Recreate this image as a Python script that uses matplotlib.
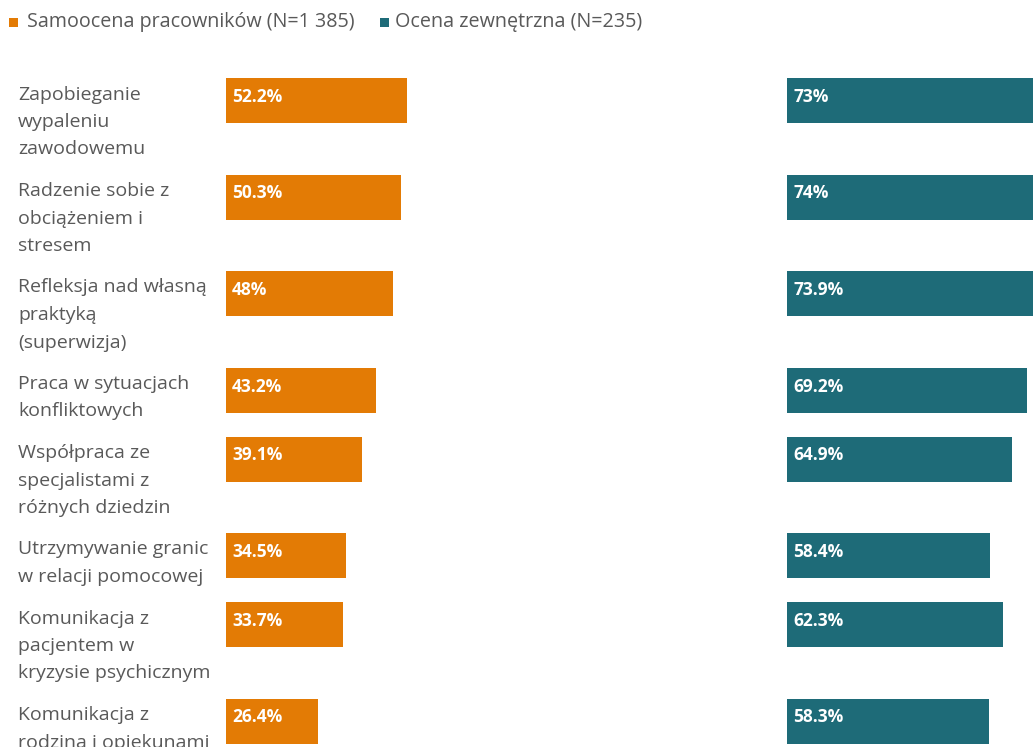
import matplotlib
matplotlib.use("Agg")
import matplotlib.pyplot as plt
from matplotlib.patches import Rectangle
from matplotlib.transforms import blended_transform_factory

# ---- data ----
categories = [
    "Zapobieganie\nwypaleniu\nzawodowemu",
    "Radzenie sobie z\nobciążeniem i\nstresem",
    "Refleksja nad własną\npraktyką\n(superwizja)",
    "Praca w sytuacjach\nkonfliktowych",
    "Współpraca ze\nspecjalistami z\nróżnych dziedzin",
    "Utrzymywanie granic\nw relacji pomocowej",
    "Komunikacja z\npacjentem w\nkryzysie psychicznym",
    "Komunikacja z\nrodziną i opiekunami",
]
self_vals = [52.2, 50.3, 48.0, 43.2, 39.1, 34.5, 33.7, 26.4]
self_labels = ["52.2%", "50.3%", "48%", "43.2%", "39.1%", "34.5%", "33.7%", "26.4%"]
ext_vals = [73.0, 74.0, 73.9, 69.2, 64.9, 58.4, 62.3, 58.3]
ext_labels = ["73%", "74%", "73.9%", "69.2%", "64.9%", "58.4%", "62.3%", "58.3%"]
series_names = ["Samoocena pracowników (N=1 385)", "Ocena zewnętrzna (N=235)"]

# ---- style ----
W, H = 1033, 747
ORANGE = "#E37B05"
TEAL = "#1E6B78"
GREY = "#595959"
FONT = "Open Sans"
LINE = 27.5      # label line height (px)
GAP = 14         # gap between rows (px)
TOP0 = 78        # first bar top (px)
BAR_H = 45       # bar height (px)
PX_PER_PCT = 3.47

fig = plt.figure(figsize=(W / 100, H / 100), dpi=100)
fig.patch.set_facecolor("white")

# row positions from number of label lines
tops = []
y = TOP0
for c in categories:
    tops.append(y)
    y += LINE * len(c.split("\n")) + GAP

left_x0 = 226
right_x0 = 787
axL = fig.add_axes([left_x0 / W, 0, 100 * PX_PER_PCT / W, 1])
axR = fig.add_axes([right_x0 / W, 0, (W - right_x0) / W, 1])
axL.set_xlim(0, 100)
axR.set_xlim(0, (W - right_x0) / PX_PER_PCT)

for ax, vals, labs, col in [(axL, self_vals, self_labels, ORANGE),
                            (axR, ext_vals, ext_labels, TEAL)]:
    ax.set_ylim(H, 0)
    ax.axis("off")
    ax.barh([t + BAR_H / 2 for t in tops], vals, height=BAR_H, color=col,
            align="center", linewidth=0)
    for t, lab in zip(tops, labs):
        ax.annotate(lab, xy=(0, t + 24), xytext=(6, 0),
                    textcoords="offset pixels", va="baseline", ha="left",
                    color="white", fontweight="bold", fontsize=12.5,
                    family=FONT)

# category labels
tr = blended_transform_factory(fig.transFigure, axL.transData)
for t, c in zip(tops, categories):
    for k, line in enumerate(c.split("\n")):
        fig.text(18 / W, t + 21.5 + k * LINE, line, transform=tr,
                 va="baseline", ha="left", color=GREY, fontsize=14,
                 family=FONT)

# legend
def add_legend_item(xsq, xtxt, color, text):
    fig.add_artist(Rectangle((xsq / W, 1 - 27 / H), 9 / W, 9 / H,
                             transform=fig.transFigure, color=color,
                             linewidth=0))
    fig.text(xtxt / W, 1 - 22.5 / H, text, va="center", ha="left",
             color=GREY, fontsize=14.2, family=FONT)

add_legend_item(9, 27, ORANGE, series_names[0])
add_legend_item(380, 395, TEAL, series_names[1])

fig.savefig("out.png", dpi=100, facecolor="white")
